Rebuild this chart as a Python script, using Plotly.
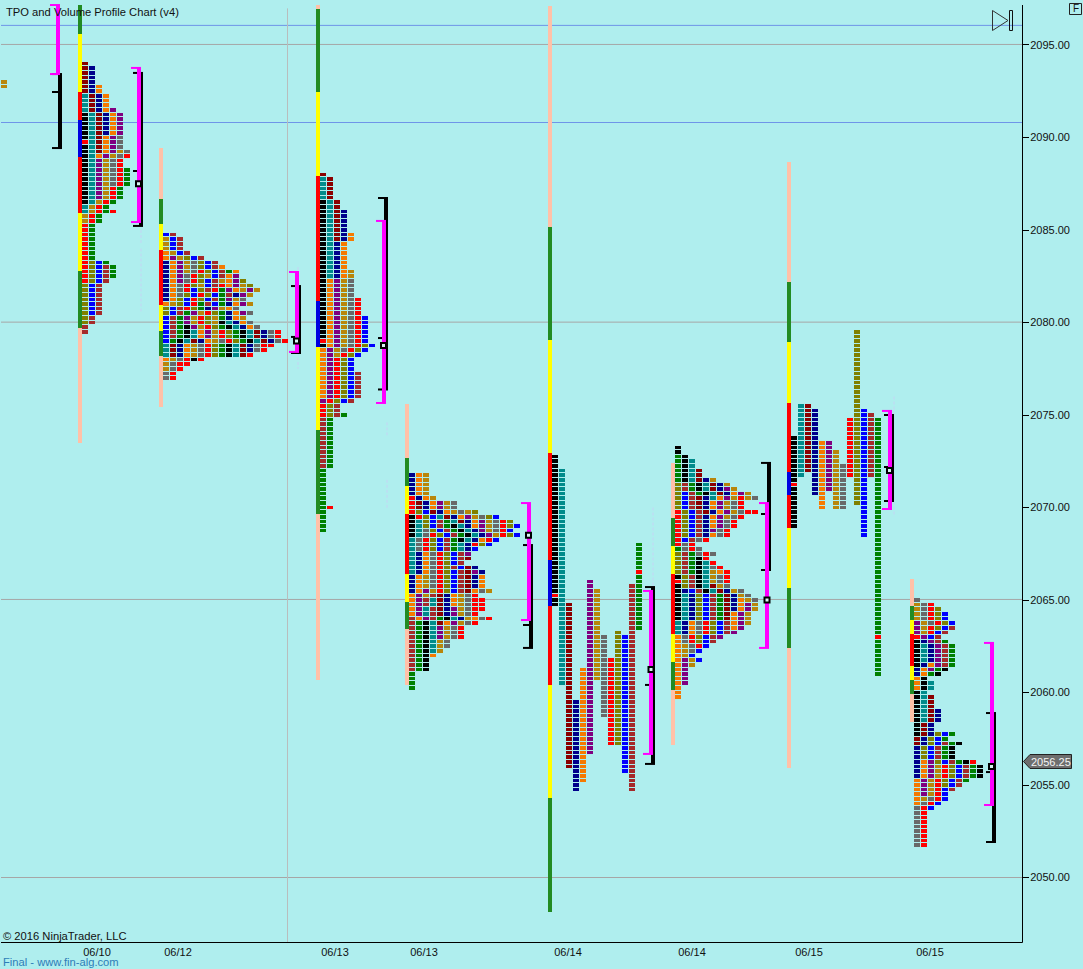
import plotly.graph_objects as go

# ---------- axis labels ----------
price_ticks = [2050, 2055, 2060, 2065, 2070, 2075, 2080, 2085, 2090, 2095]
date_pos = [97, 178, 335, 424, 568, 692, 809, 930]
date_labels = ["06/10", "06/12", "06/13", "06/13", "06/14", "06/14", "06/15", "06/15"]
level_blue = [2096.06, 2090.81]
level_grey = [2095.03, 2080.02, 2065.03, 2050.0]

# ---------- TPO colours ----------
TPO = {"k": "#000000", "t": "#008B8B", "m": "#8B0000", "n": "#00008B", "o": "#F57A00",
       "p": "#800080", "g": "#B8860B", "y": "#696969", "r": "#FF0000", "l": "#808000",
       "b": "#0000FF", "w": "#A52A2A", "e": "#008000"}
BAR = {"s": "#FFC1A8", "e": "#228B22", "y": "#FFFF00", "r": "#FF0000", "b": "#0000E0"}

# ---------- profiles read as periods: letter, high, low ----------
p1_letters = "ktmnopgyrlbwer"
p1_high = [2091.25, 2092.25, 2094.0, 2093.75, 2092.75, 2091.5, 2089.25, 2090.0, 2089.0, 2083.25, 2083.25, 2083.0, 2088.25, 2086.0]
p1_low = [2086.5, 2086.0, 2089.25, 2090.25, 2089.0, 2086.75, 2085.5, 2087.5, 2082.25, 2080.0, 2080.5, 2079.5, 2082.5, 2086.0]
p1_red = [("k", 2089.75)]

p3_letters = "ktmnopgyrlbwer"
p3_high = [2086.5, 2087.75, 2088.0, 2086.0, 2084.75, 2082.25, 2082.75, 2082.25, 2081.25, 2078.75, 2080.25, 2077.25, 2075.0, 2070.0]
p3_low = [2078.75, 2082.5, 2084.5, 2082.5, 2076.0, 2075.75, 2078.25, 2078.5, 2075.0, 2075.0, 2075.75, 2072.25, 2068.75, 2070.0]
p3_red = [("k", 2079.0)]

p5_letters = "ktmnopgyrlbwe"
p5_high = [2072.75, 2072.0, 2064.75, 2059.5, 2061.25, 2066.0, 2065.5, 2063.0, 2061.75, 2063.25, 2063.0, 2065.75, 2068.0]
p5_low = [2064.75, 2060.5, 2056.0, 2054.75, 2055.25, 2056.75, 2060.75, 2058.75, 2057.25, 2057.25, 2055.75, 2054.75, 2063.5]
p5_red = [("k", 2065.25), ("e", 2066.5)]

p7_letters = "ktmnopgyrlbwe"
p7_high = [2073.75, 2075.5, 2075.5, 2075.25, 2073.5, 2073.5, 2073.0, 2072.25, 2074.75, 2079.5, 2075.25, 2075.0, 2074.75]
p7_low = [2069.0, 2071.75, 2072.0, 2070.75, 2070.0, 2071.0, 2070.0, 2070.0, 2071.75, 2070.25, 2068.5, 2071.75, 2061.0]
p7_red = [("k", 2071.25), ("e", 2063.0)]

# ---------- profiles read row by row, top row first ----------
p0_top = 2093.0
p0_rows = ["g", "g"]

p2_top = 2084.75
p2_rows = ["bw", "gbw", "gbw", "gbw", "ogbw", "opglbw", "nopgylbw", "nopgylbwo", "nopgyrlbweo",
           "nopyrlgbwop", "nopyrlbwgopl", "noyrlgbwropgl", "noyrblwrepogpg", "noylbrlbewnpg",
           "nolbrlbwepgy", "oglbrewbenopg", "lbwrlenpgoy", "lbwepgrlenopy", "bwepgrlgenog",
           "bwepgrlgktnoy", "bwekpgrlektnoy", "bwektopgrlektmnyr", "bwektopgrlektmnyr",
           "bektmnogyrlektmnyr", "tmnogyrlektmnyrr", "tmnogyrlektmnyr", "tmnogyrlektmr",
           "ogyrkr", "gyrr", "gyr", "yr", "yr"]

p4_top = 2071.75
p4_rows = ["nog", "nog", "nog", "nog", "nog", "rnog", "rmnopgy", "rmnopgy", "rlbmnogygl",
           "krlbtmnopgylb", "ktlbwetmnopgyrl", "ktlbwektnopgyrlb", "ktylbwektnpgyrb",
           "ktyrlbwektnpgrlb", "tyrlbwektnorb", "tyrlbwetnrlb", "tyrlbwetnb", "tnoyrlbwp",
           "tnoyrlbwm", "tnoyrlbw", "tnoyrlwbmn", "tnoyrlbwmpn", "nogyrlbwmno", "nogyrlbwmno",
           "nogyrlbwmno", "nopgrlbwmoyg", "opgwmnogyr", "opwtmnogyrr", "opwtmnogyrr", "optwmnpgyrr",
           "optwmnpgyr", "wopwektngoyr", "wektmopgyr", "wektpgyr", "wektpgyr", "wektpgyr",
           "wektgy", "wektgy", "wektg", "weko", "wek", "wek", "wek", "e", "e", "e", "e"]

p6_top = 2073.25
p6_rows = ["k", "k", "ek", "ekt", "ekt", "ektm", "ektm", "ektmng", "lwektmng", "lwektmnpg",
           "lbwektmnopg", "lbwmntopgrgy", "lbwmnopgyr", "lbwmnopgyr", "rlbwmnopgyrr", "rlbwnopgyr",
           "rlbwnopyr", "rlbwnopyr", "rlbwnpyr", "rlbwnoyr", "rbwyr", "ryr", "eyry", "lweyry",
           "lwekr", "lwektr", "lwektyr", "lwektgor", "klwktgyr", "rlwktgyr", "klwktmgy",
           "knbwktmngy", "ktnlbwemngy", "ktnlbwemnogy", "ktnlbwemnopg", "ktnlbwemnopg",
           "ktnlbwemopg", "ktnlbwemopg", "tnoyrlbwopg", "tnoyrlbwop", "tnoyrlbwp", "oyrlbwp",
           "oyrlbw", "ogyrb", "ogyb", "ogb", "opgb", "opg", "op", "op", "op", "op", "o", "o", "o"]

p8_top = 2065.0
p8_rows = ["y", "gyr", "gyrl", "gyrlb", "gyrlb", "pgyrlb", "pgrlbw", "pgrbw", "rpbw", "knpwe",
           "ktnpwe", "ktnpwe", "ktnpwe", "ktnpwe", "knopwe", "nopek", "noek", "ok", "okt", "okt",
           "kt", "ktm", "ktm", "ktm", "ktmn", "ktmn", "ktmn", "kmn", "kmn", "kmnlbe", "mnlbe",
           "mnlbwek", "nlbwek", "nlbwek", "nlbwek", "noplbwekr", "nopgrlbwek", "nopgrlbwek",
           "nopgrlbwek", "opgrlbwe", "opgrlbw", "opgrbw", "opgrb", "ogyrb", "oyrb", "yrb",
           "yr", "yr", "yr", "yr", "yr", "yr", "yr", "yr"]

# ---------- session range bars: colours, top price of each segment, last price ----------
s1_cols = "eyrbryes"
s1_edges = [2097.16, 2095.6, 2092.46, 2090.95, 2088.95, 2085.92, 2082.78, 2079.7, 2073.5]
s2_cols = "seyryes"
s2_edges = [2089.43, 2086.68, 2085.32, 2083.92, 2080.95, 2079.54, 2078.19, 2075.43]
s3_cols = "seyrbyes"
s3_edges = [2097.16, 2096.95, 2092.46, 2087.92, 2081.16, 2078.68, 2074.19, 2069.65, 2060.68]
s4_cols = "seyryes"
s4_edges = [2075.59, 2072.68, 2071.16, 2069.65, 2066.41, 2064.89, 2063.43, 2060.41]
s5_cols = "seyrbrye"
s5_edges = [2097.1, 2085.16, 2079.05, 2072.95, 2067.16, 2064.68, 2060.41, 2054.3, 2048.14]
s6_cols = "seyryes"
s6_edges = [2072.4, 2069.43, 2067.92, 2066.41, 2063.16, 2061.65, 2060.14, 2057.16]
s7_cols = "seyrbryes"
s7_edges = [2088.68, 2082.19, 2078.95, 2075.65, 2071.92, 2070.68, 2068.89, 2065.65, 2062.41, 2055.92]
s8_cols = "seyryes"
s8_edges = [2066.14, 2064.68, 2063.92, 2063.16, 2061.43, 2060.68, 2059.92, 2058.41]

# ---------- value-area brackets ----------
mag_x = [58, 139, 297, 384, 529, 651, 767, 890, 992]
mag_top = [2097.16, 2093.76, 2082.73, 2085.49, 2070.24, 2065.49, 2070.24, 2075.22, 2062.68]
mag_bot = [2093.43, 2085.43, 2078.41, 2075.65, 2063.92, 2056.68, 2062.41, 2069.92, 2053.92]
blk_x = [60, 141, 299, 386, 531, 653, 769, 892, 994]
blk_top = [2093.43, 2093.49, 2081.97, 2086.73, 2067.97, 2065.7, 2072.41, 2075.0, 2058.89]
blk_bot = [2089.43, 2085.22, 2078.35, 2076.38, 2062.41, 2056.14, 2066.62, 2070.35, 2051.92]
blk_mid = [2092.46, 2088.19, 2079.22, 2079.16, 2063.65, 2060.41, 2069.65, 2072.19, 2055.7]
poc_x = [138.5, 296.5, 383.5, 528.5, 651, 767, 889.5, 991.5]
poc_price = [2087.5, 2079.0, 2078.75, 2068.5, 2061.25, 2065.0, 2072.0, 2056.0]

# faint dashed session markers: x, high, low
mark_x = [60, 141, 141, 298, 387, 387, 653, 894]
mark_high = [2093.0, 2085.0, 2084.0, 2083.0, 2074.6, 2071.5, 2070.0, 2076.0]
mark_low = [2089.2, 2084.2, 2080.6, 2077.5, 2073.9, 2069.9, 2056.0, 2069.5]

# ---------- geometry ----------
PW, PH = 1022, 942
Y_TOP, Y_BOT = 2097.432, 2046.514
STEP, PITCH, CW, CH = 0.25, 7, 6, 0.2


def from_periods(letters, highs, lows, stacked, reds):
    rows = {}
    cells = []
    for i, (L, hi, lo) in enumerate(zip(letters, highs, lows)):
        n = int(round((hi - lo) / STEP))
        for k in range(n + 1):
            pr = hi - k * STEP
            col = rows.get(pr, 0) if stacked else i
            rows[pr] = rows.get(pr, 0) + 1
            c = "r" if any(L == a and abs(pr - b) < 1e-6 for a, b in reds) else L
            cells.append((col, pr, c))
    return cells


def from_rows(top, strs):
    return [(c, top - r * STEP, ch) for r, s in enumerate(strs) for c, ch in enumerate(s)]


profiles = [
    (1, from_rows(p0_top, p0_rows)),
    (82, from_periods(p1_letters, p1_high, p1_low, True, p1_red)),
    (163, from_rows(p2_top, p2_rows)),
    (320, from_periods(p3_letters, p3_high, p3_low, True, p3_red)),
    (409, from_rows(p4_top, p4_rows)),
    (552, from_periods(p5_letters, p5_high, p5_low, False, p5_red)),
    (675, from_rows(p6_top, p6_rows)),
    (791, from_periods(p7_letters, p7_high, p7_low, False, p7_red)),
    (914, from_rows(p8_top, p8_rows)),
]
sessions = [(80, s1_cols, s1_edges), (161, s2_cols, s2_edges), (318, s3_cols, s3_edges),
            (407, s4_cols, s4_edges), (550, s5_cols, s5_edges), (673, s6_cols, s6_edges),
            (789, s7_cols, s7_edges), (912, s8_cols, s8_edges)]

fig = go.Figure()

# session bars
grp = {}
for x, cols, edges in sessions:
    for i, c in enumerate(cols):
        g = grp.setdefault(c, ([], [], []))
        g[0].append(x)
        g[1].append(edges[i] - edges[i + 1])
        g[2].append(edges[i + 1])
for c, (xs, hs, bs) in grp.items():
    fig.add_trace(go.Bar(x=xs, y=hs, base=bs, width=4, marker=dict(color=BAR[c], line=dict(width=0)),
                         showlegend=False, hoverinfo="skip"))

# TPO cells
grp = {}
for start, cells in profiles:
    for col, pr, c in cells:
        g = grp.setdefault(c, ([], []))
        g[0].append(start + CW / 2 + col * PITCH)
        g[1].append(pr - CH / 2)
for c, (xs, bs) in grp.items():
    fig.add_trace(go.Bar(x=xs, y=[CH] * len(xs), base=bs, width=CW,
                         marker=dict(color=TPO[c], line=dict(width=0)),
                         showlegend=False, hoverinfo="skip"))


def segs(pairs):
    xs, ys = [], []
    for x0, y0, x1, y1 in pairs:
        xs += [x0, x1, None]
        ys += [y0, y1, None]
    return xs, ys


def line_trace(pairs, color, width, dash="solid"):
    xs, ys = segs(pairs)
    fig.add_trace(go.Scatter(x=xs, y=ys, mode="lines", line=dict(color=color, width=width, dash=dash),
                             showlegend=False, hoverinfo="skip"))


line_trace([(x, h, x, l) for x, h, l in zip(mark_x, mark_high, mark_low)], "#C4D4F4", 1, "3px,2px")

# black bracket
line_trace([(x, t, x, b) for x, t, b in zip(blk_x, blk_top, blk_bot)], "#000000", 4)
line_trace([(x - 8, v, x + 2, v) for x, t, b in zip(blk_x, blk_top, blk_bot) for v in (t, b)], "#000000", 2)
line_trace([(x - 8, m, x, m) for x, m in zip(blk_x, blk_mid)], "#000000", 2)
# magenta bracket
line_trace([(x, t, x, b) for x, t, b in zip(mag_x, mag_top, mag_bot)], "#FF00FF", 4)
line_trace([(x - 8, v, x + 2, v) for x, t, b in zip(mag_x, mag_top, mag_bot) for v in (t, b)], "#FF00FF", 2)

fig.add_trace(go.Scatter(x=poc_x, y=poc_price, mode="markers",
                         marker=dict(symbol="square", size=5, color="#D8F4F4", line=dict(color="#000000", width=2)),
                         showlegend=False, hoverinfo="skip"))


def px(x):
    return x / PW


def py(y):
    return 1 - y / PH


shapes = []
for v in level_blue:
    shapes.append(dict(type="line", xref="x", yref="y", x0=1, x1=PW, y0=v, y1=v, layer="below",
                       line=dict(color="#6F95E8", width=1)))
for v in level_grey:
    shapes.append(dict(type="line", xref="x", yref="y", x0=1, x1=PW, y0=v, y1=v, layer="below",
                       line=dict(color="#A6A6A6", width=1)))
shapes.append(dict(type="line", xref="x", yref="y", x0=287.5, x1=287.5, y0=Y_BOT, y1=2096.98, layer="below",
                   line=dict(color="#B9BDBD", width=1)))
# chart frame
shapes.append(dict(type="line", xref="paper", yref="paper", x0=px(1022.5), x1=px(1022.5), y0=py(5), y1=py(942.5),
                   line=dict(color="#000000", width=1)))
shapes.append(dict(type="line", xref="paper", yref="paper", x0=px(1), x1=px(1022.5), y0=py(942.5), y1=py(942.5),
                   line=dict(color="#000000", width=1)))
# play icon
shapes.append(dict(type="path", xref="paper", yref="paper",
                   path=f"M {px(992.5)} {py(10.5)} L {px(1008)} {py(20.5)} L {px(992.5)} {py(30.5)} Z",
                   line=dict(color="#333333", width=1), fillcolor="rgba(0,0,0,0)"))
shapes.append(dict(type="rect", xref="paper", yref="paper", x0=px(1009.5), x1=px(1012.5), y0=py(10.5), y1=py(30.5),
                   line=dict(color="#111111", width=1), fillcolor="rgba(0,0,0,0)"))
# F box
shapes.append(dict(type="rect", xref="paper", yref="paper", x0=px(1069.5), x1=px(1081.5), y0=py(3.5), y1=py(14.5),
                   line=dict(color="#222222", width=1), fillcolor="rgba(0,0,0,0)"))
# last price tag
shapes.append(dict(type="path", xref="paper", yref="paper",
                   path=(f"M {px(1023.5)} {py(761.5)} L {px(1030)} {py(754.5)} L {px(1071.5)} {py(754.5)} "
                         f"L {px(1071.5)} {py(768.5)} L {px(1030)} {py(768.5)} Z"),
                   line=dict(color="#222222", width=1), fillcolor="#6E6E6E"))

FONT = "Liberation Sans, Arial, sans-serif"


def note(x, y, text, size=11, color="#111111", anchor="left"):
    return dict(xref="paper", yref="paper", x=px(x), y=py(y), text=text, showarrow=False, xanchor=anchor,
                yanchor="middle", align="left", font=dict(family=FONT, size=size, color=color),
                borderpad=0, borderwidth=0)


annotations = [
    note(6, 12, "TPO and Volume Profile Chart (v4)", 11.2),
    note(3, 935.5, "© 2016 NinjaTrader, LLC", 11.2),
    note(3, 962, "Final - www.fin-alg.com", 11.2, "#2E7DB8"),
    note(1075.5, 9, "F", 10, "#111111", "center"),
    note(1031, 761.5, "2056.25", 11, "#F4F4F4"),
]

fig.update_layout(
    width=1083, height=969, autosize=False,
    margin=dict(l=0, r=61, t=0, b=27, pad=0),
    paper_bgcolor="#AFEEEE", plot_bgcolor="#AFEEEE",
    barmode="overlay", bargap=0,
    showlegend=False, shapes=shapes, annotations=annotations,
    font=dict(family=FONT, size=11, color="#111111"),
    xaxis=dict(range=[0, PW], tickmode="array", tickvals=date_pos, ticktext=date_labels,
               showgrid=False, zeroline=False, showline=False,
               ticks="", tickfont=dict(size=11), ticklabelstandoff=2),
    yaxis=dict(range=[Y_BOT, Y_TOP], side="right", tickmode="array", tickvals=price_ticks,
               ticktext=[f"{v:.2f}" for v in price_ticks], showgrid=False, zeroline=False,
               showline=False, ticks="outside", ticklen=6,
               tickcolor="#000000", tickfont=dict(size=11), ticklabelstandoff=-1),
)

fig.write_html("out.html", config=dict(displayModeBar=False),
               post_script="document.body.style.margin='0';document.body.style.overflow='hidden';")
